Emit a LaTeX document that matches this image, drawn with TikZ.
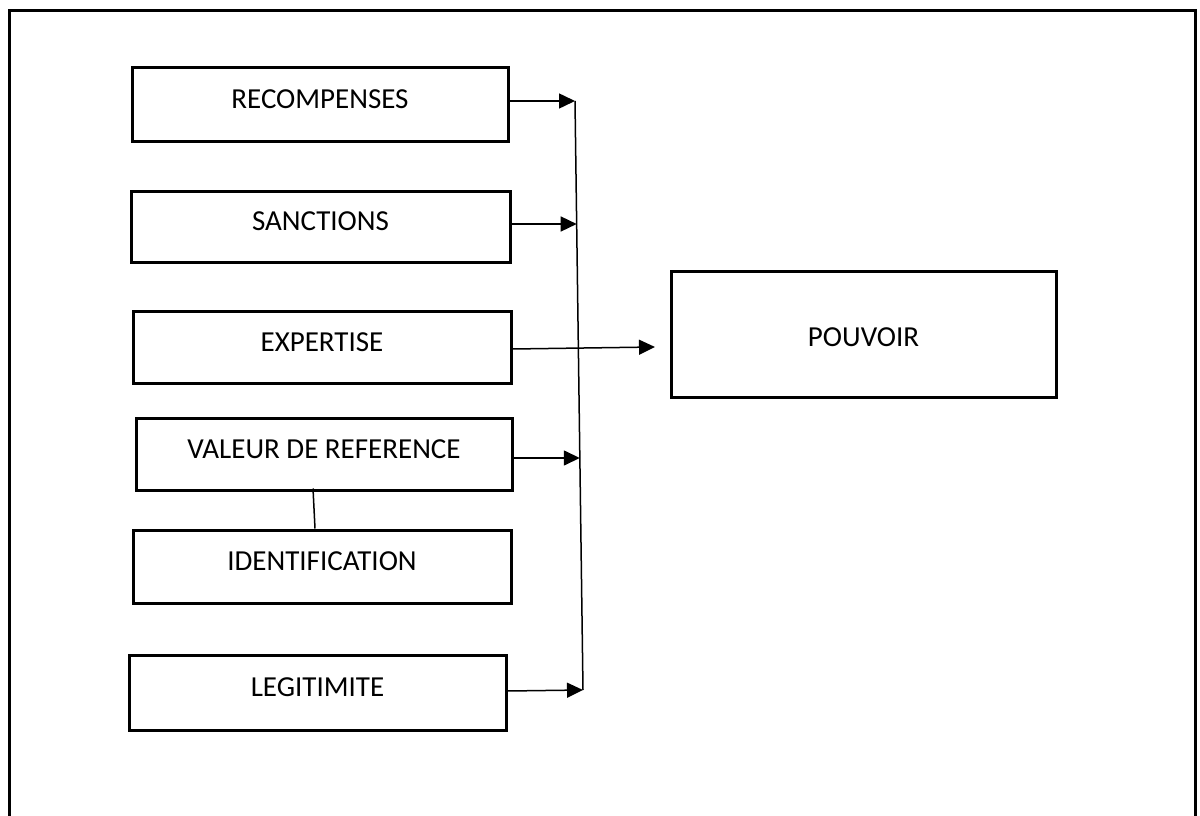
\documentclass[tikz,border=0pt]{standalone}
\usepackage{fontspec}
\setmainfont{Carlito}
\usetikzlibrary{arrows.meta,calc}
\begin{document}
\begin{tikzpicture}[x=1pt,y=-1pt,
  box/.style={draw,line width=3pt,rectangle,inner sep=0pt,
    font=\fontsize{29}{35}\selectfont,text height=18.5pt,text depth=10pt},
  arr/.style={line width=1.5pt,-{Triangle[length=16pt,width=15pt]}},
  conn/.style={line width=1.5pt}]
\useasboundingbox (0,0) rectangle (1200,816);
\draw[line width=3pt] (9,816) -- (9,11) -- (1195,11) -- (1195,816);
\node[box,minimum width=376pt,minimum height=73pt] (rec) at (320,104.5) {RECOMPENSES};
\node[box,minimum width=379pt,minimum height=71pt] (sanc) at (320.5,226.5) {SANCTIONS};
\node[box,minimum width=378pt,minimum height=72pt] (exp) at (322,347) {EXPERTISE};
\node[box,minimum width=376pt,minimum height=72pt] (val) at (324,454) {VALEUR DE REFERENCE};
\node[box,minimum width=378pt,minimum height=73pt] (ident) at (322,566.5) {IDENTIFICATION};
\node[box,minimum width=377pt,minimum height=75pt] (leg) at (317.5,692.5) {LEGITIMITE};
\node[box,minimum width=385pt,minimum height=126pt,text height=24pt,text depth=0pt] (pouv) at (863.5,334) {POUVOIR};
\coordinate (s1) at (575,101);
\coordinate (s2) at (576.7,224);
\coordinate (s3) at (579.8,458);
\coordinate (s4) at (583,690);
\coordinate (pt) at (655,347);
\draw[conn] (s1) -- (s4);
\draw[arr] (rec.east |- s1) -- (s1);
\draw[arr] (sanc.east |- s2) -- (s2);
\draw[arr] ($(exp.east)+(0,2)$) -- (pt);
\draw[arr] (val.east |- s3) -- (s3);
\draw[arr] ($(leg.east)+(0,-1.5)$) -- (s4);
\draw[conn] ($(val.south)+(-11,-3)$) -- ($(ident.north)+(-7,0)$);
\end{tikzpicture}
\end{document}
